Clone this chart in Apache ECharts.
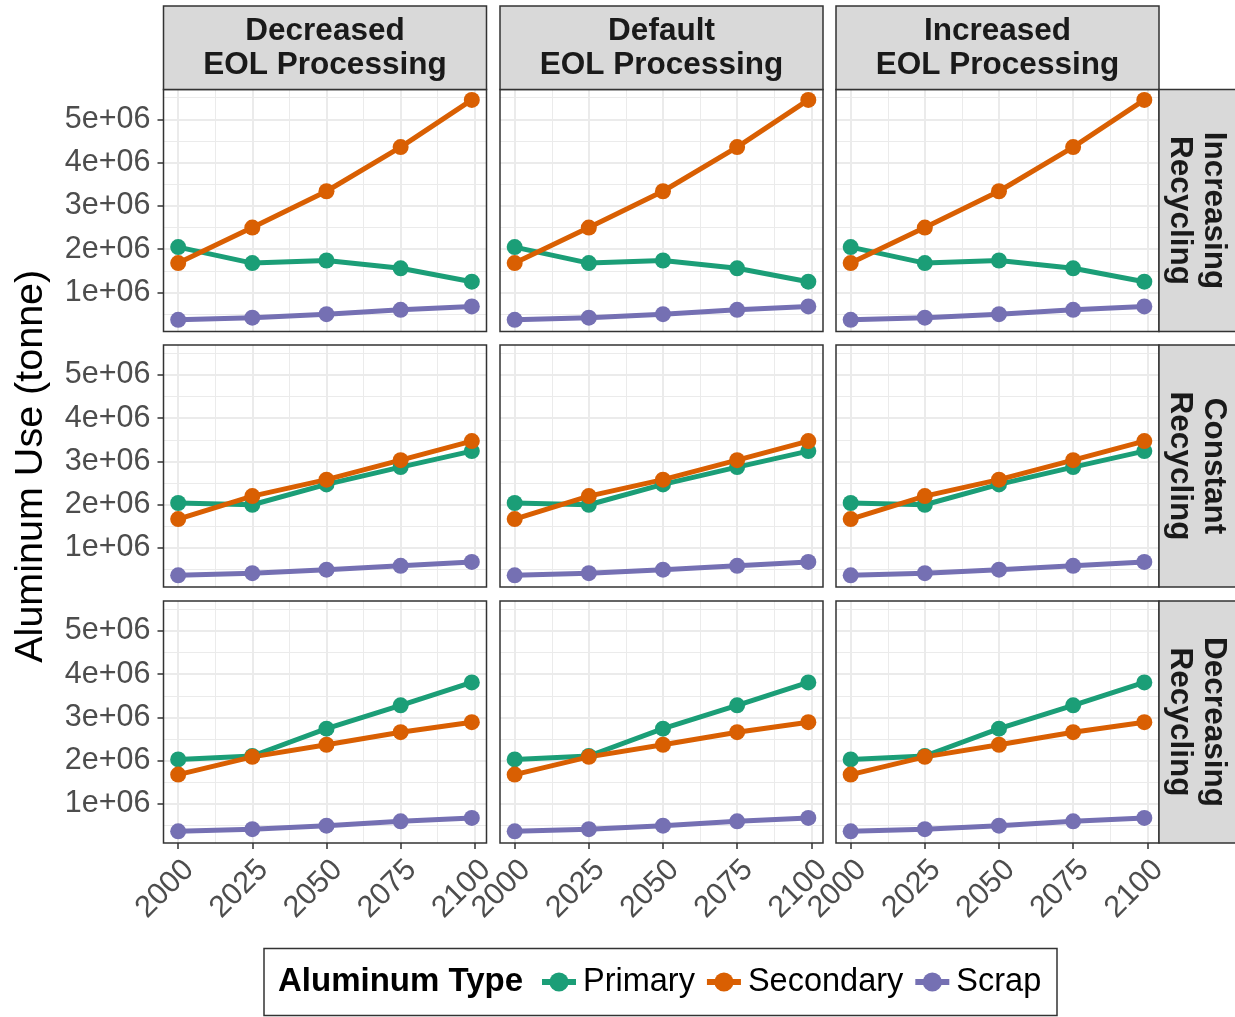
<!DOCTYPE html>
<html><head><meta charset="utf-8">
<script src="https://cdn.jsdelivr.net/npm/echarts@6/dist/echarts.min.js"></script>
<style>html,body{margin:0;padding:0;background:#fff}#chart{width:1235px;height:1017px}</style>
</head><body><div id="chart"></div>
<script>
// ---------- data ----------
const years = [2000, 2025, 2050, 2075, 2099];
const columnLabels = ['Decreased\nEOL Processing', 'Default\nEOL Processing', 'Increased\nEOL Processing'];
const rowLabels = ['Increasing\nRecycling', 'Constant\nRecycling', 'Decreasing\nRecycling'];
const typeNames = ['Primary', 'Secondary', 'Scrap'];
const typeColors = ['#1B9E77', '#D95F02', '#7570B3'];

const increasingPrimary   = [2.05e6, 1.68e6, 1.74e6, 1.56e6, 1.25e6];
const increasingSecondary = [1.68e6, 2.50e6, 3.34e6, 4.36e6, 5.45e6];
const increasingScrap     = [0.37e6, 0.42e6, 0.50e6, 0.60e6, 0.68e6];

const constantPrimary   = [2.04e6, 2.00e6, 2.47e6, 2.87e6, 3.24e6];
const constantSecondary = [1.67e6, 2.20e6, 2.58e6, 3.03e6, 3.47e6];
const constantScrap     = [0.37e6, 0.42e6, 0.50e6, 0.59e6, 0.68e6];

const decreasingPrimary   = [2.03e6, 2.11e6, 2.74e6, 3.28e6, 3.81e6];
const decreasingSecondary = [1.68e6, 2.09e6, 2.37e6, 2.66e6, 2.89e6];
const decreasingScrap     = [0.37e6, 0.42e6, 0.50e6, 0.60e6, 0.68e6];

const xTickValues = [2000, 2025, 2050, 2075, 2100];
const xTickLabels = ['2000', '2025', '2050', '2075', '2100'];
const xMinorValues = [2012.5, 2037.5, 2062.5, 2087.5];
const yTickValues = [1e6, 2e6, 3e6, 4e6, 5e6];
const yTickLabels = ['1e+06', '2e+06', '3e+06', '4e+06', '5e+06'];
const yMinorValues = [0.5e6, 1.5e6, 2.5e6, 3.5e6, 4.5e6, 5.5e6];
const xRange = [1995.05, 2103.95];
const yRange = [0.10e6, 5.69e6];

const rowData = [
  [increasingPrimary, increasingSecondary, increasingScrap],
  [constantPrimary, constantSecondary, constantScrap],
  [decreasingPrimary, decreasingSecondary, decreasingScrap]
];

// ---------- layout ----------
const FONT = "'Liberation Sans', Arial, Helvetica, sans-serif";
const colLeft = [163.5, 500, 836];
const panelW = 323;
const rowTop = [89.5, 345, 601];
const panelH = 242;
const stripTop = 6;
const rightStripX = 1159;

const grids = [], xAxes = [], yAxes = [], series = [], graphics = [];
const tickStyle = { color: '#333333', width: 1.5 };

for (let r = 0; r < 3; r++) {
  for (let c = 0; c < 3; c++) {
    const g = r * 3 + c;
    grids.push({ left: colLeft[c], top: rowTop[r], width: panelW, height: panelH,
      containLabel: false, outerBoundsMode: 'none', show: true, backgroundColor: '#fff', borderWidth: 0 });
    xAxes.push({
      type: 'value', gridIndex: g, min: xRange[0], max: xRange[1], position: 'bottom',
      axisLine: { show: false, onZero: false },
      axisTick: { show: r === 2, customValues: xTickValues, length: 6, lineStyle: tickStyle },
      axisLabel: { show: r === 2, customValues: xTickValues, rotate: 45, margin: 11,
        align: 'right', verticalAlign: 'top',
        formatter: v => xTickLabels[xTickValues.indexOf(v)],
        color: '#4d4d4d', fontSize: 30.5, fontFamily: FONT },
      splitLine: { show: true, lineStyle: { color: '#ebebeb', width: 2 } },
      minorTick: { show: false }, minorSplitLine: { show: false }
    });
    xAxes.push({
      type: 'value', gridIndex: g, min: xRange[0], max: xRange[1], position: 'top',
      axisLine: { show: false, onZero: false },
      axisTick: { show: false, customValues: xMinorValues },
      axisLabel: { show: false, customValues: xMinorValues },
      splitLine: { show: true, lineStyle: { color: '#ebebeb', width: 1 } }
    });
    yAxes.push({
      type: 'value', gridIndex: g, min: yRange[0], max: yRange[1], position: 'left',
      axisLine: { show: false, onZero: false },
      axisTick: { show: c === 0, customValues: yTickValues, length: 6, lineStyle: tickStyle },
      axisLabel: { show: c === 0, customValues: yTickValues, margin: 13,
        formatter: v => yTickLabels[yTickValues.indexOf(v)],
        color: '#4d4d4d', fontSize: 30.5, fontFamily: FONT },
      splitLine: { show: true, lineStyle: { color: '#ebebeb', width: 2 } }
    });
    yAxes.push({
      type: 'value', gridIndex: g, min: yRange[0], max: yRange[1], position: 'right',
      axisLine: { show: false, onZero: false },
      axisTick: { show: false, customValues: yMinorValues },
      axisLabel: { show: false, customValues: yMinorValues },
      splitLine: { show: true, lineStyle: { color: '#ebebeb', width: 1 } }
    });
    for (let k = 0; k < 3; k++) {
      series.push({
        type: 'line', name: typeNames[k], xAxisIndex: 2 * g, yAxisIndex: 2 * g,
        data: years.map((yr, i) => [yr, rowData[r][k][i]]),
        symbol: 'circle', symbolSize: 16, showSymbol: true,
        lineStyle: { color: typeColors[k], width: 5 },
        itemStyle: { color: typeColors[k] },
        emphasis: { disabled: true }, silent: true, clip: false
      });
    }
    graphics.push({ type: 'rect', z: 100, silent: true,
      shape: { x: colLeft[c], y: rowTop[r], width: panelW, height: panelH },
      style: { fill: 'none', stroke: '#333333', lineWidth: 1.5 } });
  }
}

// column strips
for (let c = 0; c < 3; c++) {
  graphics.push({ type: 'rect', z: 100, silent: true,
    shape: { x: colLeft[c], y: stripTop, width: panelW, height: rowTop[0] - stripTop },
    style: { fill: '#d9d9d9', stroke: '#333333', lineWidth: 1.5 } });
  graphics.push({ type: 'text', z: 101, silent: true,
    x: colLeft[c] + panelW / 2, y: (stripTop + rowTop[0]) / 2 + 1,
    style: { text: columnLabels[c], fontSize: 31.5, fontWeight: 'bold', fontFamily: FONT,
      fill: '#1a1a1a', align: 'center', verticalAlign: 'middle', lineHeight: 34 } });
}
// row strips
for (let r = 0; r < 3; r++) {
  graphics.push({ type: 'rect', z: 100, silent: true,
    shape: { x: rightStripX, y: rowTop[r], width: 90, height: panelH },
    style: { fill: '#d9d9d9', stroke: '#333333', lineWidth: 1.5 } });
  graphics.push({ type: 'text', z: 101, silent: true,
    x: 1197, y: rowTop[r] + panelH / 2, rotation: -Math.PI / 2,
    style: { text: rowLabels[r], fontSize: 31.5, fontWeight: 'bold', fontFamily: FONT,
      fill: '#1a1a1a', align: 'center', verticalAlign: 'middle', lineHeight: 34 } });
}
// y axis title
graphics.push({ type: 'text', z: 101, silent: true, x: 31, y: (rowTop[0] + rowTop[2] + panelH) / 2,
  rotation: Math.PI / 2,
  style: { text: 'Aluminum Use (tonne)', fontSize: 39.5, fontFamily: FONT, fill: '#000',
    align: 'center', verticalAlign: 'middle' } });
// legend box and title
graphics.push({ type: 'rect', z: 1, silent: true,
  shape: { x: 264, y: 948.5, width: 793, height: 67 },
  style: { fill: '#fff', stroke: '#333333', lineWidth: 1.5 } });
graphics.push({ type: 'text', z: 101, silent: true, x: 278, y: 982,
  style: { text: 'Aluminum Type', fontSize: 33, fontWeight: 'bold', fontFamily: FONT, fill: '#000',
    align: 'left', verticalAlign: 'middle' } });

const chart = echarts.init(document.getElementById('chart'), null, { renderer: 'canvas' });
chart.setOption({
  animation: false,
  backgroundColor: '#ffffff',
  grid: grids,
  xAxis: xAxes,
  yAxis: yAxes,
  series: series,
  legend: {
    data: typeNames, left: 539, top: 965, orient: 'horizontal', padding: 0,
    itemWidth: 34, itemHeight: 24, itemGap: 9, selectedMode: false,
    lineStyle: { width: 6 },
    textStyle: { fontSize: 32.5, color: '#000', fontFamily: FONT, lineHeight: 34, padding: [0, 0, 0, 2] }
  },
  graphic: graphics
});
</script>
</body></html>
